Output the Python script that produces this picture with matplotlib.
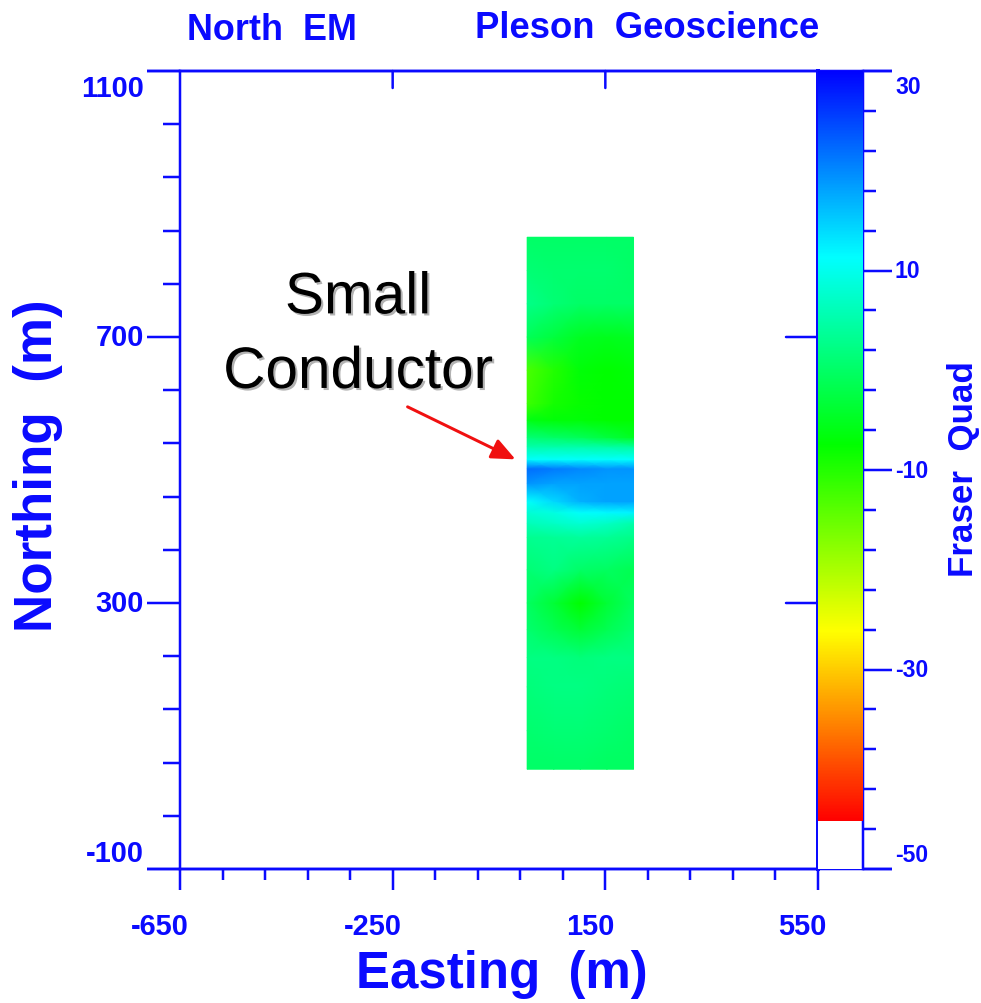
import numpy as np
import matplotlib
matplotlib.use('Agg')
import matplotlib.pyplot as plt
import matplotlib.patheffects as pe
from matplotlib.colors import LinearSegmentedColormap, Normalize

BLUE = '#0a0aff'
FW = 981
FH = 1004

eastings = [3, 53, 103, 153, 203]
northings = [50, 108, 174, 218, 260, 300, 350, 399, 420, 436, 453, 480, 502, 516, 535,
             549, 575, 600, 650, 700, 750, 800, 850]
fraser = [
    [0.0, 0.0, 0.0, -0.5, -0.5],
    [0.5, 1.0, 1.0, 0.5, 0.0],
    [1.5, 2.0, 2.0, 1.5, 1.0],
    [2.0, 2.0, 1.5, 2.0, 2.0],
    [0.5, -1.5, -3.5, -1.5, 0.5],
    [-0.5, -3.5, -7.5, -3.5, -0.5],
    [1.0, 2.0, 0.0, -0.5, -1.5],
    [3.0, 3.5, 4.0, 3.5, 2.5],
    [6.0, 7.0, 8.0, 7.0, 5.0],
    [8.0, 9.0, 11.0, 11.5, 12.0],
    [11.0, 14.0, 17.0, 18.0, 18.0],
    [19.0, 18.0, 18.0, 18.0, 18.0],
    [22.0, 21.0, 20.0, 19.0, 19.0],
    [11.0, 11.0, 11.0, 11.0, 11.0],
    [5.0, 5.0, 5.0, 4.5, 4.0],
    [1.0, 0.0, -1.0, -3.0, -5.0],
    [-6.0, -7.0, -7.0, -7.5, -7.5],
    [-12.0, -9.0, -8.0, -7.5, -7.5],
    [-13.0, -10.0, -7.0, -7.5, -7.0],
    [-1.0, -3.0, -5.0, -5.5, -5.0],
    [2.5, 1.0, 0.0, 0.0, 0.0],
    [1.0, 0.5, 0.5, 0.5, 0.0],
    [0.0, 0.0, 0.0, 0.0, 0.0],
]

scale_values = [-45.2, -26.25, -7.5, 11.25, 30]
scale_colors = ['#ff0000', '#ffff00', '#00ff00', '#00ffff', '#0000ff']

x_major = [-650, -250, 150, 550]
x_minor = [-570, -490, -410, -330, -170, -90, -10, 70, 230, 310, 390, 470]
y_major = [-100, 300, 700, 1100]
y_minor = [-20, 60, 140, 220, 380, 460, 540, 620, 780, 860, 940, 1020]
cb_major = [-50, -30, -10, 10, 30]
cb_minor = [-46, -42, -38, -34, -26, -22, -18, -14, -6, -2, 2, 6, 14, 18, 22, 26]

plt.rcParams['font.family'] = ['Liberation Sans', 'DejaVu Sans']
plt.rcParams['font.weight'] = 'bold'


def px_axes(left, right, top, bottom):
    return [left / FW, 1 - bottom / FH, (right - left) / FW, (bottom - top) / FH]


def pt(pixels):
    return pixels * 0.72


fig = plt.figure(figsize=(FW / 100, FH / 100), dpi=100)
ax = fig.add_axes(px_axes(180, 818, 72, 870))
cax = fig.add_axes(px_axes(818, 863, 72, 870))

cmap = LinearSegmentedColormap.from_list(
    'fraser', [((v - scale_values[0]) / (scale_values[-1] - scale_values[0]), c)
               for v, c in zip(scale_values, scale_colors)], N=512)
norm = Normalize(scale_values[0], scale_values[-1])

ax.pcolormesh(eastings, northings, np.array(fraser), shading='gouraud', cmap=cmap, norm=norm)
ax.set_xlim(-650, 550)
ax.set_ylim(-100, 1100)

for side in ['top', 'bottom', 'left', 'right']:
    ax.spines[side].set_color(BLUE)
    ax.spines[side].set_linewidth(pt(2.5))
ax.spines['right'].set_linewidth(pt(4))
ax.spines['right'].set_zorder(6)

# left and bottom ticks point out, the top and right ones point in
ax.set_xticks(x_major)
ax.set_xticks(x_minor, minor=True)
ax.set_yticks(y_major)
ax.set_yticks(y_minor, minor=True)
ax.set_xticklabels([])
ax.set_yticklabels([])
ax.tick_params(axis='x', which='major', length=pt(21), width=pt(2.5), color=BLUE, direction='out')
ax.tick_params(axis='x', which='minor', length=pt(11), width=pt(2.5), color=BLUE, direction='out')
ax.tick_params(axis='y', which='major', length=pt(33), width=pt(2.5), color=BLUE, direction='out')
ax.tick_params(axis='y', which='minor', length=pt(17), width=pt(2.5), color=BLUE, direction='out')

for x in x_major[1:3]:
    ax.annotate('', (x, 1100), xytext=(0, -17), textcoords='offset pixels',
                arrowprops=dict(arrowstyle='-', color=BLUE, lw=pt(2.5), shrinkA=0, shrinkB=0))
for y in y_major[1:3]:
    ax.annotate('', (550, y), xytext=(-32, 0), textcoords='offset pixels',
                arrowprops=dict(arrowstyle='-', color=BLUE, lw=pt(2.5), shrinkA=0, shrinkB=0))

# frame lines run past both ends of the plot
for y_frac in [0, 1]:
    ax.plot([-33 / 638, 1 + 74 / 638], [y_frac, y_frac], transform=ax.transAxes, color=BLUE,
            lw=pt(2.5), clip_on=False, zorder=7, solid_capstyle='butt')

for x in x_major:
    ax.annotate(str(x), (x, -100), xytext=(9, -57), textcoords='offset pixels',
                ha='right', va='center', color=BLUE, fontsize=pt(29))
y_shift = {-100: 16, 300: 0, 700: 0, 1100: -17}
for y in y_major:
    ax.annotate(str(y), (-650, y), xytext=(-36, y_shift[y]), textcoords='offset pixels',
                ha='right', va='center', color=BLUE, fontsize=pt(29))

# colour scale
levels = np.linspace(scale_values[0], scale_values[-1], 512)
cax.pcolormesh([0, 1], np.append(levels, levels[-1] + 0.01), levels[:, None], cmap=cmap, norm=norm)
cax.set_xlim(0, 1)
cax.set_ylim(-50, 30)
cax.set_xticks([])
cax.yaxis.tick_right()
cax.set_yticks(cb_major)
cax.set_yticks(cb_minor, minor=True)
cax.set_yticklabels([])
cax.tick_params(axis='y', which='major', length=pt(29), width=pt(2.5), color=BLUE)
cax.tick_params(axis='y', which='minor', length=pt(13), width=pt(2.5), color=BLUE)
for side in ['top', 'bottom', 'left']:
    cax.spines[side].set_visible(False)
cax.spines['right'].set_color(BLUE)
cax.spines['right'].set_linewidth(pt(2.5))
cax.spines['right'].set_zorder(0)
cb_shift = {-50: 14, -30: 0, -10: 0, 10: 0, 30: -15}
for v in cb_major:
    cax.annotate(str(v), (1, v), xytext=(32, cb_shift[v]), textcoords='offset pixels',
                 ha='left', va='center', color=BLUE, fontsize=pt(23))

fig.text(187 / FW, 1 - 31 / FH, 'North  EM', color=BLUE, fontsize=pt(36), ha='left', va='center')
fig.text(475 / FW, 1 - 28 / FH, 'Pleson  Geoscience', color=BLUE, fontsize=pt(36.5), ha='left', va='center')
fig.text(502 / FW, 1 - 975 / FH, 'Easting  (m)', color=BLUE, fontsize=pt(51), ha='center', va='center')
fig.text(38 / FW, 1 - 466 / FH, 'Northing  (m)', color=BLUE, fontsize=pt(53), rotation=90,
         ha='center', va='center')
fig.text(964 / FW, 1 - 469 / FH, 'Fraser  Quad', color=BLUE, fontsize=pt(35), rotation=90,
         ha='center', va='center')

label = ax.text(-315, 702, 'Small\nConductor', color='black', fontsize=pt(58.5), fontweight='normal',
                ha='center', va='center', linespacing=1.49, zorder=8)
label.set_path_effects([pe.withSimplePatchShadow(offset=(1.5, -1.5), shadow_rgbFace='#808080', alpha=0.6)])

ax.annotate('', xy=(-19, 516), xytext=(-222, 595),
            arrowprops=dict(arrowstyle='-|>,head_width=0.35,head_length=0.8', color='#f01010', lw=pt(3),
                            shrinkA=0, shrinkB=0, mutation_scale=18))

fig.savefig('out.png', dpi=100)
